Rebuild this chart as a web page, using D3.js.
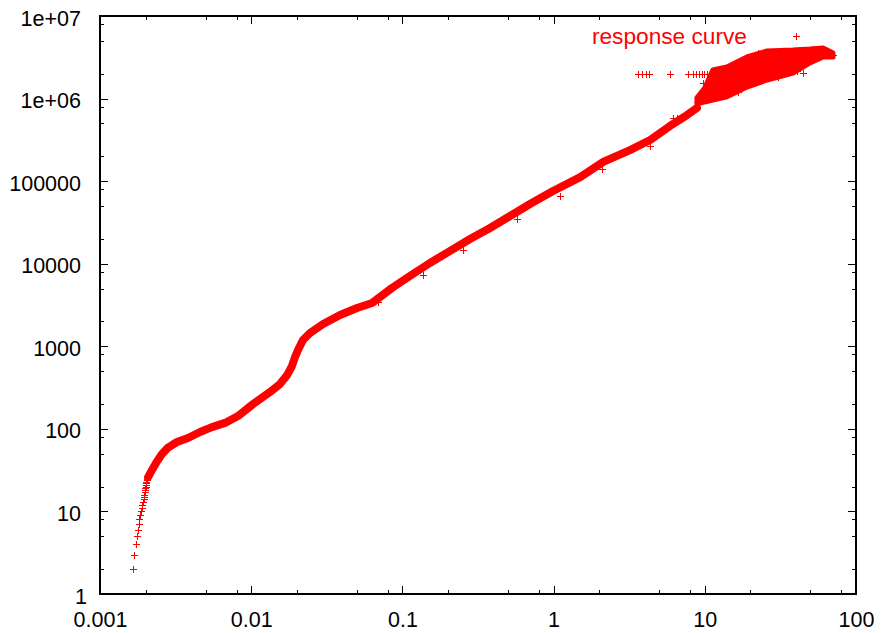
<!DOCTYPE html>
<meta charset="UTF-8">
<script src="https://d3js.org/d3.v7.min.js"></script>
<style>
body { margin: 0; background: #fff; }
text { font-family: "Liberation Sans", Arial, Helvetica, sans-serif; }
</style>
<div id="my_dataviz"></div>
<script>

// tick values and labels
var xTicks = [0.001, 0.01, 0.1, 1, 10, 100]
var xTickLabels = ["0.001", "0.01", "0.1", "1", "10", "100"]
var yTicks = [1, 10, 100, 1000, 10000, 100000, 1e6, 1e7]
var yTickLabels = ["1", "10", "100", "1000", "10000", "100000", "1e+06", "1e+07"]
var minorSteps = [2, 5, 8]

// low end: single points, one per integer count
var lowX = [0.00166, 0.00168, 0.00172, 0.00175, 0.001775, 0.0018, 0.00182, 0.00184, 0.00187, 0.00189, 0.0019, 0.00193, 0.00194,
            0.00195, 0.00196, 0.00197, 0.00198, 0.00199, 0.002, 0.00201, 0.00202, 0.00203, 0.00205, 0.00206, 0.00208]
var lowY = [2, 3, 4, 5, 6, 7, 8, 9, 10, 11, 12, 13, 14, 15, 16, 17, 18, 19, 20, 21, 22, 23, 24, 25, 26]

// dense part of the response curve (centre of the band)
var curveX = [0.00208, 0.00221, 0.00238, 0.00257, 0.00282, 0.00323, 0.00382, 0.00459, 0.0055, 0.00671, 0.00818, 0.0103, 0.0133,
              0.0155, 0.0173, 0.0186, 0.0195, 0.0204, 0.022, 0.0245, 0.0299, 0.0387, 0.0501, 0.063, 0.0711, 0.0853, 0.112,
              0.152, 0.207, 0.28, 0.38, 0.515, 0.698, 0.991, 1.5, 2.13, 3.2, 4.35, 5.89, 7.62, 8.87]
var curveY = [26, 31.8, 40.3, 49.5, 59.4, 69.3, 77.5, 91.6, 105, 118, 143, 200, 279,
              349, 449, 577, 741, 901, 1190, 1450, 1860, 2390, 2910, 3340, 3950, 5080, 7100,
              10200, 14300, 19900, 27100, 37800, 52900, 76000, 112000, 171000, 238000, 315000, 466000, 632000, 769000]

// saturated cloud at the top right: upper and lower envelope
var blobX = [8.87, 9.98, 11.3, 14.0, 19.0, 25.8, 38.3, 49.6, 60.5, 70.5]
var blobTop = [1.02e6, 1.34e6, 2.22e6, 2.41e6, 3.19e6, 3.77e6, 3.87e6, 3.98e6, 4.1e6, 3.56e6]
var blobBottom = [0.86e6, 0.91e6, 0.96e6, 1.05e6, 1.38e6, 1.68e6, 2.04e6, 2.7e6, 3.19e6, 3.19e6]

// stray points
var strayX = [3.6, 3.85, 4.1, 4.25, 5.9, 7.8, 8.4, 8.8, 9.2, 9.55, 9.9, 10.3,
              9.73, 22.5, 23.2, 40.7, 44.6, 70.5, 6.55, 12.5, 16.5, 30.5,
              0.0694, 0.137, 0.253, 0.57, 1.1, 2.08, 4.35, 6.19]
var strayY = [2e6, 2e6, 2e6, 2e6, 2e6, 2e6, 2e6, 2e6, 2e6, 2e6, 2e6, 2e6,
              1.55e6, 3.56e6, 3.07e6, 2.16e6, 2.04e6, 3.37e6, 582000, 2.3e6, 1.2e6, 1.8e6,
              3470, 7300, 14700, 35000, 66000, 140000, 270000, 577000]

var width = 882
var height = 633
// plot box (top/left are taken by window globals, so prefix them)
var boxL = 100, boxR = 856, boxT = 16, boxB = 594
var red = "#ff0000"

var svg = d3.select("#my_dataviz")
    .append("svg")
        .attr("width", width)
        .attr("height", height)

svg.append("rect").attr("width", width).attr("height", height).attr("fill", "#fff")

var x = d3.scaleLog().domain([0.001, 100]).range([boxL, boxR])
var y = d3.scaleLog().domain([1, 1e7]).range([boxB, boxT])

var xMinor = [], yMinor = []
xTicks.slice(0, -1).forEach(function(t){ minorSteps.forEach(function(m){ xMinor.push(t * m) }) })
yTicks.slice(0, -1).forEach(function(t){ minorSteps.forEach(function(m){ yMinor.push(t * m) }) })

// axes: ticks point inwards on all four sides
function drawAxis(axis, tr, labels) {
    var g = svg.append("g").attr("transform", tr).call(axis)
    g.select(".domain").remove()
    g.selectAll("line").attr("stroke", "#000").attr("shape-rendering", "crispEdges")
    g.selectAll("text").attr("fill", "#000").style("font-size", "21.5px")
    if (!labels) g.selectAll("text").remove()
    return g
}

drawAxis(d3.axisBottom(x).tickValues(xTicks).tickSize(-8).tickPadding(17.5)
    .tickFormat(function(d, i){ return xTickLabels[i] }), "translate(0," + boxB + ")", true)
drawAxis(d3.axisBottom(x).tickValues(xMinor).tickSize(-4), "translate(0," + boxB + ")", false)
drawAxis(d3.axisTop(x).tickValues(xTicks).tickSize(-8), "translate(0," + boxT + ")", false)
drawAxis(d3.axisTop(x).tickValues(xMinor).tickSize(-4), "translate(0," + boxT + ")", false)

var yl = drawAxis(d3.axisLeft(y).tickValues(yTicks).tickSize(-8).tickPadding(19)
    .tickFormat(function(d, i){ return yTickLabels[i] }), "translate(" + boxL + ",0)", true)
yl.selectAll("text").attr("dy", "0.42em")
// gnuplot sets the lone "1" a bit further right
yl.selectAll("text").filter(function(d){ return d === 1 }).attr("dx", 6)
drawAxis(d3.axisLeft(y).tickValues(yMinor).tickSize(-4), "translate(" + boxL + ",0)", false)
drawAxis(d3.axisRight(y).tickValues(yTicks).tickSize(-8), "translate(" + boxR + ",0)", false)
drawAxis(d3.axisRight(y).tickValues(yMinor).tickSize(-4), "translate(" + boxR + ",0)", false)

svg.append("rect")
    .attr("x", boxL).attr("y", boxT)
    .attr("width", boxR - boxL).attr("height", boxB - boxT)
    .attr("fill", "none").attr("stroke", "#000").attr("stroke-width", 1.2)
    .attr("shape-rendering", "crispEdges")

// the data
var curve = curveX.map(function(d, i){ return [d, curveY[i]] })
var blob = blobX.map(function(d, i){ return {x: d, top: blobTop[i], bottom: blobBottom[i]} })
var points = lowX.map(function(d, i){ return [d, lowY[i]] })
    .concat(curve)
    .concat(strayX.map(function(d, i){ return [d, strayY[i]] }))

var plot = svg.append("g")

plot.append("path")
    .datum(curve)
    .attr("d", d3.line().x(function(d){ return x(d[0]) }).y(function(d){ return y(d[1]) }))
    .attr("fill", "none")
    .attr("stroke", red)
    .attr("stroke-width", 8)
    .attr("stroke-linejoin", "round")
    .attr("stroke-linecap", "round")

plot.append("path")
    .datum(blob)
    .attr("d", d3.area()
        .x(function(d){ return x(d.x) })
        .y0(function(d){ return y(d.bottom) })
        .y1(function(d){ return y(d.top) }))
    .attr("fill", red)
    .attr("stroke", red)
    .attr("stroke-width", 5)
    .attr("stroke-linejoin", "round")

// gnuplot style "+" point, 7px wide, drawn on the pixel grid
var plus = "M-3.5,0H3.5M0,-3.5V3.5"

plot.selectAll(".pt")
    .data(points)
    .enter()
    .append("path")
        .attr("class", "pt")
        .attr("transform", function(d){ return "translate(" + (Math.round(x(d[0])) + 0.5) + "," + (Math.round(y(d[1])) + 0.5) + ")" })
        .attr("d", plus)
        .attr("fill", "none")
        .attr("stroke", red)
        .attr("stroke-width", 1)
        .attr("shape-rendering", "crispEdges")

// key
svg.append("text")
    .attr("x", 747).attr("y", 44)
    .attr("text-anchor", "end")
    .attr("fill", red)
    .style("font-size", "22.7px")
    .text("response curve")

svg.append("path")
    .attr("transform", "translate(796.5,36.5)")
    .attr("d", plus)
    .attr("fill", "none")
    .attr("stroke", red)
    .attr("stroke-width", 1)
    .attr("shape-rendering", "crispEdges")

</script>
